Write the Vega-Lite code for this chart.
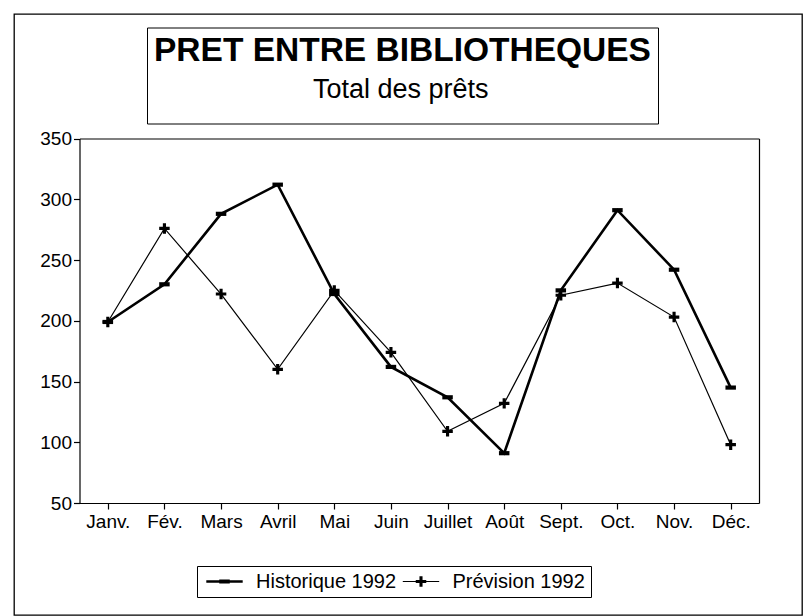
{
  "$schema": "https://vega.github.io/schema/vega-lite/v6.json",
  "width": 788,
  "height": 601,
  "autosize": {"type": "none"},
  "padding": {"left": 14, "top": 14, "right": 7, "bottom": 1},
  "background": "white",
  "config": {
    "view": {"stroke": "black", "strokeWidth": 1.3, "fill": "white"},
    "font": "Liberation Sans",
    "axis": {
      "labelFont": "Liberation Sans",
      "labelFontSize": 19,
      "labelColor": "black",
      "domainColor": "black",
      "tickColor": "black",
      "domainWidth": 1.2,
      "tickWidth": 1.2,
      "grid": false,
      "title": null
    },
    "legend": {
      "labelFont": "Liberation Sans",
      "titleFont": "Liberation Sans",
      "labelColor": "black",
      "titleColor": "black",
      "strokeColor": "black",
      "fillColor": "white",
      "cornerRadius": 0,
      "labelLimit": 800,
      "titleLimit": 800
    }
  },
  "data": {
    "values": [
      {"mois": "Janv.", "serie": "Historique 1992", "valeur": 199},
      {"mois": "Fév.", "serie": "Historique 1992", "valeur": 230},
      {"mois": "Mars", "serie": "Historique 1992", "valeur": 288},
      {"mois": "Avril", "serie": "Historique 1992", "valeur": 312},
      {"mois": "Mai", "serie": "Historique 1992", "valeur": 222},
      {"mois": "Juin", "serie": "Historique 1992", "valeur": 162},
      {"mois": "Juillet", "serie": "Historique 1992", "valeur": 137},
      {"mois": "Août", "serie": "Historique 1992", "valeur": 91},
      {"mois": "Sept.", "serie": "Historique 1992", "valeur": 225},
      {"mois": "Oct.", "serie": "Historique 1992", "valeur": 291},
      {"mois": "Nov.", "serie": "Historique 1992", "valeur": 242},
      {"mois": "Déc.", "serie": "Historique 1992", "valeur": 145},
      {"mois": "Janv.", "serie": "Prévision 1992", "valeur": 199},
      {"mois": "Fév.", "serie": "Prévision 1992", "valeur": 276},
      {"mois": "Mars", "serie": "Prévision 1992", "valeur": 222},
      {"mois": "Avril", "serie": "Prévision 1992", "valeur": 160},
      {"mois": "Mai", "serie": "Prévision 1992", "valeur": 225},
      {"mois": "Juin", "serie": "Prévision 1992", "valeur": 174},
      {"mois": "Juillet", "serie": "Prévision 1992", "valeur": 109},
      {"mois": "Août", "serie": "Prévision 1992", "valeur": 132},
      {"mois": "Sept.", "serie": "Prévision 1992", "valeur": 221},
      {"mois": "Oct.", "serie": "Prévision 1992", "valeur": 231},
      {"mois": "Nov.", "serie": "Prévision 1992", "valeur": 203},
      {"mois": "Déc.", "serie": "Prévision 1992", "valeur": 98}
    ]
  },
  "layer": [
    {
      "mark": {"type": "line", "color": "black", "strokeJoin": "miter"},
      "encoding": {
        "x": {
          "field": "mois",
          "type": "ordinal",
          "sort": null,
          "scale": {
            "type": "point",
            "domain": ["Janv.", "Fév.", "Mars", "Avril", "Mai", "Juin", "Juillet", "Août", "Sept.", "Oct.", "Nov.", "Déc."],
            "range": [65.5, 745],
            "padding": 0.5
          },
          "axis": {"orient": "bottom", "offset": -112, "tickSize": 6, "labelPadding": 3, "labelAngle": 0}
        },
        "y": {
          "field": "valeur",
          "type": "quantitative",
          "scale": {"domain": [50, 350], "range": [489, 124.5], "nice": false, "zero": false},
          "axis": {"orient": "left", "offset": -65.5, "values": [50, 100, 150, 200, 250, 300, 350], "tickSize": 6, "labelPadding": 2}
        },
        "detail": {"field": "serie", "type": "nominal"},
        "strokeWidth": {"condition": {"test": "datum.serie === 'Historique 1992'", "value": 2.6}, "value": 1.2}
      }
    },
    {
      "mark": {"type": "point", "filled": true, "color": "black", "size": 110, "opacity": 1},
      "encoding": {
        "x": {
          "field": "mois",
          "type": "ordinal",
          "sort": null,
          "axis": {"orient": "top", "offset": -124.5, "ticks": false, "labels": false, "domain": true}
        },
        "y": {
          "field": "valeur",
          "type": "quantitative",
          "axis": {"orient": "right", "offset": -43, "ticks": false, "labels": false, "domain": true}
        },
        "shape": {
          "field": "serie",
          "type": "nominal",
          "scale": {
            "domain": ["Historique 1992", "Prévision 1992"],
            "range": [
              "M-1,-0.4H1V0.4H-1Z",
              "M-0.3,-1H0.3V-0.3H1V0.3H0.3V1H-0.3V0.3H-1V-0.3H-0.3Z"
            ]
          },
          "legend": null
        }
      }
    },
    {
      "mark": {"type": "point", "filled": true, "color": "black", "opacity": 0},
      "encoding": {
        "shape": {
          "field": "serie",
          "type": "nominal",
          "scale": {
            "domain": ["Historique 1992", "Prévision 1992"],
            "range": [
              "M-2.6,-0.17H2.6V0.17H-2.6ZM-0.75,-0.3H0.75V0.3H-0.75Z",
              "M-2.6,-0.08H2.6V0.08H-2.6ZM-0.22,-0.75H0.22V-0.22H0.75V0.22H0.22V0.75H-0.22V0.22H-0.75V-0.22H-0.22Z"
            ]
          },
          "legend": {
            "orient": "none",
            "legendX": 183,
            "legendY": 552,
            "direction": "horizontal",
            "columns": 2,
            "title": null,
            "padding": 5.5,
            "labelFontSize": 20,
            "symbolSize": 196,
            "symbolOpacity": 1,
            "symbolFillColor": "black",
            "symbolStrokeWidth": 0,
            "symbolOffset": 12,
            "labelOffset": 21.5,
            "columnPadding": 2.5
          }
        }
      }
    },
    {
      "mark": {"type": "point", "opacity": 0},
      "encoding": {
        "strokeDash": {
          "datum": "Total des prêts",
          "legend": {
            "orient": "none",
            "legendX": 133,
            "legendY": 13.5,
            "title": "PRET ENTRE BIBLIOTHEQUES",
            "titleFontSize": 33.5,
            "titleFontWeight": "bold",
            "titlePadding": 9.5,
            "padding": 7,
            "labelFontSize": 27,
            "labelBaseline": "alphabetic",
            "labelOffset": 119,
            "symbolSize": 1444,
            "symbolOpacity": 0
          }
        }
      }
    }
  ],
  "resolve": {
    "axis": {"x": "independent", "y": "independent"},
    "scale": {"shape": "independent"}
  }
}
